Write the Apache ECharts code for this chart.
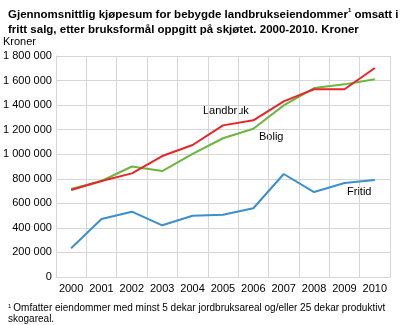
<!DOCTYPE html>
<html><head><meta charset="utf-8">
<script src="https://cdn.jsdelivr.net/npm/echarts@6/dist/echarts.min.js"></script>
<style>html,body{margin:0;padding:0;background:#fff}#c{width:403px;height:325px}</style>
</head><body><div id="c"></div>
<script>
const years = ['2000','2001','2002','2003','2004','2005','2006','2007','2008','2009','2010'];
const landbruk = [708000, 782000, 844000, 985000, 1075000, 1235000, 1276000, 1431000, 1529000, 1529000, 1702000];
const bolig = [717000, 782000, 900000, 863000, 1002000, 1130000, 1208000, 1398000, 1539000, 1569000, 1610000];
const fritid = [234000, 472000, 532000, 421000, 499000, 507000, 560000, 839000, 692000, 766000, 790000];
const FF = 'Liberation Sans, Arial, sans-serif';
const chart = echarts.init(document.getElementById('c'));
chart.setOption({
  animation: false,
  textStyle: {fontFamily: FF},
  title: [{
    left: 3, top: 2,
    text: 'Gjennomsnittlig kjøpesum for bebygde landbrukseiendommer{s|1} omsatt i\nfritt salg, etter bruksformål oppgitt på skjøtet. 2000-2010. Kroner',
    textStyle: {fontFamily: FF, fontSize: 11.5, fontWeight: 'bold', color: '#000', lineHeight: 15,
      rich: {s: {fontSize: 6, verticalAlign: 'top', fontFamily: FF, color: '#000', lineHeight: 15, padding:[0,0,6,0]}}}
  }, {
    left: 3, top: 298,
    text: '{s|1}Omfatter eiendommer med minst 5 dekar jordbruksareal og/eller 25 dekar produktivt\nskogareal.',
    textStyle: {fontFamily: FF, fontSize: 10, fontWeight: 'normal', color: '#000', lineHeight: 11,
      rich: {s: {fontSize: 6, fontFamily: FF, color: '#000', padding:[0,2,4,0]}}}
  }],
  graphic: [
    {type: 'text', left: 3, top: 36, style: {text: 'Kroner', font: '11px ' + FF, fill: '#000'}},
    {type: 'text', left: 203, top: 105, style: {text: 'Landbruk', font: '11px ' + FF, fill: '#000'}},
    {type: 'text', left: 259, top: 131, style: {text: 'Bolig', font: '11px ' + FF, fill: '#000'}},
    {type: 'text', left: 347, top: 186, style: {text: 'Fritid', font: '11px ' + FF, fill: '#000'}}
  ],
  grid: {left: 54, right: 13, top: 56, bottom: 48, containLabel: false},
  xAxis: {
    type: 'category', data: years, boundaryGap: true,
    axisLine: {show: true, lineStyle: {color: '#d6d6d6', width: 1}},
    axisTick: {show: false},
    splitLine: {show: true, interval: 0, lineStyle: {color: '#d6d6d6', width: 1}},
    axisLabel: {color: '#000', fontSize: 11, fontFamily: FF, margin: 6, interval: 0}
  },
  yAxis: {
    type: 'value', min: 0, max: 1800000, interval: 200000,
    axisLine: {show: true, lineStyle: {color: '#d6d6d6'}},
    axisTick: {show: false},
    splitLine: {lineStyle: {color: '#d6d6d6', width: 1}},
    axisLabel: {color: '#000', fontSize: 11, fontFamily: FF, margin: 4,
      formatter: v => String(v).replace(/\B(?=(\d{3})+(?!\d))/g, ' ')}
  },
  series: [
    {name: 'Fritid', type: 'line', data: fritid, symbol: 'none', lineStyle: {color: '#3a8fcc', width: 2}},
    {name: 'Bolig', type: 'line', data: bolig, symbol: 'none', lineStyle: {color: '#6ab63f', width: 2}},
    {name: 'Landbruk', type: 'line', data: landbruk, symbol: 'none', lineStyle: {color: '#e8262a', width: 2}}
  ]
});
</script></body></html>
